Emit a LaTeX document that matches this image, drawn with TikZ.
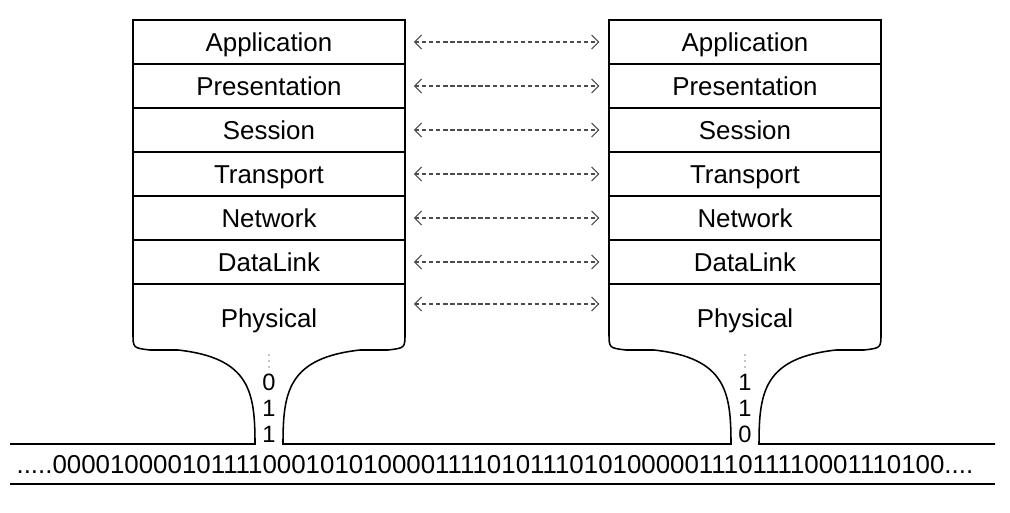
\documentclass[tikz,border=0pt]{standalone}
\usepackage{fontspec}
\setmainfont{Liberation Sans}
\usetikzlibrary{arrows.meta}

\begin{document}
\begin{tikzpicture}[x=0.025cm,y=-0.025cm,
    layer/.style={draw,line width=1.1pt,minimum width=6.8cm,minimum height=1.1cm,
      inner sep=0pt,text height=13.2pt,text depth=0pt,font=\fontsize{18.4}{22}\selectfont},
    peer/.style={gray!60!black,line width=0.8pt,dash pattern=on 3pt off 2pt,
      shorten <=0.2cm,shorten >=0.22cm,
      {Straight Barb[length=5pt,width=10pt]}-{Straight Barb[length=5pt,width=10pt]}},
    bit/.style={inner sep=0pt,text height=12pt,text depth=0pt,font=\fontsize{16.8}{18}\selectfont},
    wire/.style={line width=1.1pt}]
  \useasboundingbox (0,0) rectangle (1010,512);
  % the two seven-layer stacks
  \foreach \name/\txt [count=\i from 0] in {app/Application,pre/Presentation,
      ses/Session,tra/Transport,net/Network,dl/DataLink} {
    \node[layer] (l\name) at (269,42+44*\i) {\txt};
    \node[layer] (r\name) at (745,42+44*\i) {\txt};
    \draw[peer] (l\name) -- (r\name);
  }
  \node[layer,draw=none,minimum height=1.65cm] (lphy) at (269,318) {Physical};
  \node[layer,draw=none,minimum height=1.65cm] (rphy) at (745,318) {Physical};
  \draw[peer] ([yshift=0.35cm]lphy.east) -- ([yshift=0.35cm]rphy.west);
  % physical layer narrowing down to the wire
  \foreach \c in {269,745} {
    \draw[wire] (\c-136,284) -- (\c-136,333) .. controls (\c-136,348) .. (\c-119,350)
      -- (\c-91,350) .. controls (\c-19,358) and (\c-14,392) .. (\c-14,444) -- (\c-259,444);
    \draw[wire] (\c+136,284) -- (\c+136,333) .. controls (\c+136,348) .. (\c+119,350)
      -- (\c+91,350) .. controls (\c+19,358) and (\c+14,392) .. (\c+14,444) -- (\c+250,444);
  }
  \draw[wire] (10,484) -- (995,484);
  % bits leaving each stack
  \foreach \c/\bits in {269/{0,1,1},745/{1,1,0}} {
    \foreach \y in {355,361,367}
      \fill (\c,\y) circle (0.5pt);
    \foreach \b [count=\k] in \bits
      \node[bit] (bit\c-\k) at (\c,356+26*\k) {\b};
  }
  \node[inner sep=0pt,font=\fontsize{18.4}{20}\selectfont] (stream) at (495,465)
    {.....0000100001011110001010100001111010111010100000111011110001110100....};
\end{tikzpicture}
\end{document}
